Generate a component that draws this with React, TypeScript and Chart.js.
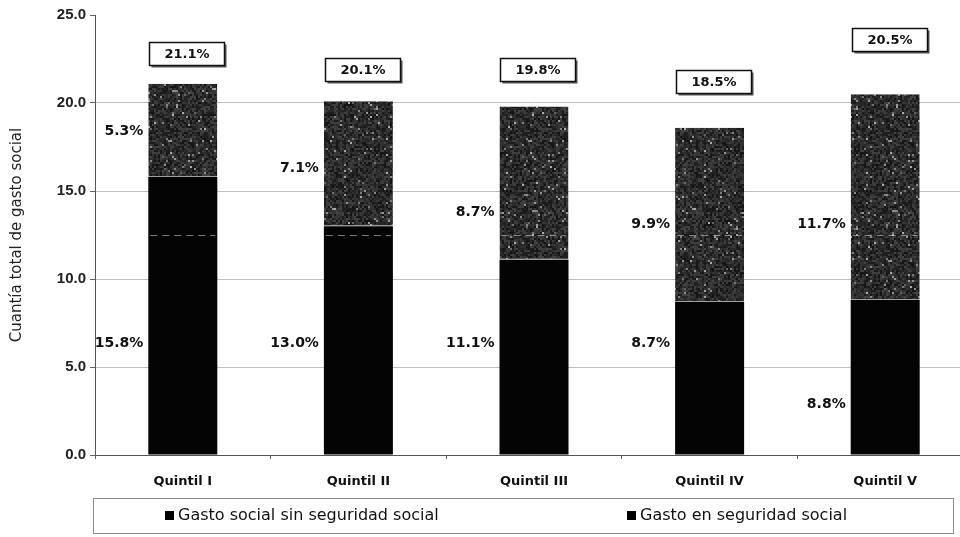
import { useEffect, useRef } from "react";
import { Chart, registerables } from "chart.js";

Chart.register(...registerables);

// Quintiles and the two components of social spending (% of the total)
const quintiles = ["Quintil I", "Quintil II", "Quintil III", "Quintil IV", "Quintil V"];
const sinSeguridad = [15.8, 13.0, 11.1, 8.7, 8.8];
const seguridadSocial = [5.3, 7.1, 8.7, 9.9, 11.7];
const totalPct = [21.1, 20.1, 19.8, 18.5, 20.5];
const seriesNames = ["Gasto social sin seguridad social", "Gasto en seguridad social"];

// Where each annotation sits, in axis units
const lowerLabelAt = [6.35, 6.35, 6.35, 6.35, 2.9];
const upperLabelAt = [18.4, 16.3, 13.8, 13.1, 13.1];
const totalLabelAt = [22.8, 21.9, 21.9, 21.2, 23.6];

const FONT = "'DejaVu Sans', 'Liberation Sans', Arial, sans-serif";
const ARIAL = "'Liberation Sans', Arial, sans-serif";

// Dark mottled fill for the social-security segment
function speckleFill(): CanvasPattern | string {
  const cells = 60;
  const cell = 2;
  const size = cells * cell;
  const raw = document.createElement("canvas");
  raw.width = size;
  raw.height = size;
  const g = raw.getContext("2d");
  if (!g) return "#333";
  let s = 918273645;
  const next = () => {
    s = (Math.imul(s, 1103515245) + 12345) >>> 0;
    return (s >>> 8) / 16777216;
  };
  for (let cy = 0; cy < cells; cy++) {
    for (let cx = 0; cx < cells; cx++) {
      const r = next();
      let v = Math.round(18 + r * 52);
      if (r > 0.955) v = Math.round(95 + next() * 80);
      g.fillStyle = `rgb(${v},${v},${v})`;
      g.fillRect(cx * cell, cy * cell, cell, cell);
    }
  }
  const soft = document.createElement("canvas");
  soft.width = size;
  soft.height = size;
  const h = soft.getContext("2d");
  if (!h) return "#333";
  h.fillStyle = "#2a2a2a";
  h.fillRect(0, 0, size, size);
  h.filter = "blur(0.5px)";
  h.drawImage(raw, 0, 0);
  const pat = h.createPattern(soft, "repeat");
  return pat || "#333";
}

const annotations = {
  id: "annotations",
  afterDatasetsDraw(chart: any) {
    const ctx: CanvasRenderingContext2D = chart.ctx;
    const y = chart.scales.y;
    const lower = chart.getDatasetMeta(0).data;
    const upper = chart.getDatasetMeta(1).data;

    ctx.save();
    // faint dashed reference across the bars
    ctx.strokeStyle = "rgba(200,200,200,0.6)";
    ctx.lineWidth = 1;
    ctx.setLineDash([7, 5]);
    const ref = Math.round(y.getPixelForValue(12.5)) + 0.5;
    lower.forEach((bar: any) => {
      ctx.beginPath();
      ctx.moveTo(bar.x - bar.width / 2 + 2, ref);
      ctx.lineTo(bar.x + bar.width / 2 - 2, ref);
      ctx.stroke();
    });
    ctx.setLineDash([]);

    ctx.fillStyle = "#111";
    ctx.font = `bold 14px ${FONT}`;
    ctx.textBaseline = "middle";
    ctx.textAlign = "right";
    lower.forEach((bar: any, i: number) => {
      const left = bar.x - bar.width / 2;
      ctx.fillText(`${sinSeguridad[i].toFixed(1)}%`, left - 5, y.getPixelForValue(lowerLabelAt[i]));
      ctx.fillText(`${seguridadSocial[i].toFixed(1)}%`, left - 5, y.getPixelForValue(upperLabelAt[i]));
    });

    // boxed totals
    ctx.font = `bold 13px ${FONT}`;
    ctx.textAlign = "center";
    upper.forEach((bar: any, i: number) => {
      const bx = Math.round(bar.x - bar.width / 2) + 1.5;
      const cy = y.getPixelForValue(totalLabelAt[i]);
      const w = 75;
      const h = 23;
      const by = Math.round(cy - h / 2) + 0.5;
      ctx.fillStyle = "#555";
      ctx.fillRect(bx + 2, by + 2, w, h);
      ctx.fillStyle = "#fff";
      ctx.fillRect(bx, by, w, h);
      ctx.strokeStyle = "#111";
      ctx.lineWidth = 1.5;
      ctx.strokeRect(bx, by, w, h);
      ctx.fillStyle = "#111";
      ctx.fillText(`${totalPct[i].toFixed(1)}%`, bx + w / 2, by + h / 2 + 1);
    });
    ctx.restore();
  },
  afterDraw(chart: any) {
    const ctx: CanvasRenderingContext2D = chart.ctx;
    ctx.save();
    // legend frame
    ctx.strokeStyle = "#8c8c8c";
    ctx.lineWidth = 1;
    ctx.strokeRect(93.5, 498.5, 860, 35);
    const items = [
      { x: 165, label: chart.data.datasets[0].label },
      { x: 627, label: chart.data.datasets[1].label },
    ];
    ctx.font = `16px ${FONT}`;
    ctx.textBaseline = "middle";
    ctx.textAlign = "left";
    items.forEach((it) => {
      ctx.fillStyle = "#000";
      ctx.fillRect(it.x, 511, 9, 9);
      ctx.fillStyle = "#111";
      ctx.fillText(it.label, it.x + 13, 516);
    });
    ctx.restore();
  },
};

export default function App() {
  const canvasRef = useRef<HTMLCanvasElement | null>(null);

  useEffect(() => {
    if (!canvasRef.current) return;
    const chart = new Chart(canvasRef.current, {
      type: "bar",
      data: {
        labels: quintiles,
        datasets: [
          {
            label: seriesNames[0],
            data: sinSeguridad,
            backgroundColor: "#040404",
            borderWidth: 0,
          },
          {
            label: seriesNames[1],
            data: seguridadSocial,
            backgroundColor: speckleFill() as any,
            borderColor: "#a0a0a0",
            borderWidth: { top: 0, left: 0, right: 0, bottom: 1 },
            borderSkipped: false,
          },
        ],
      },
      options: {
        animation: false,
        responsive: true,
        maintainAspectRatio: false,
        layout: { padding: { top: 15, right: 7, bottom: 0, left: 0 } },
        datasets: { bar: { categoryPercentage: 1, barPercentage: 0.393 } },
        plugins: {
          legend: { display: false },
          tooltip: { enabled: false },
        },
        scales: {
          x: {
            stacked: true,
            offset: true,
            grid: {
              display: true,
              offset: true,
              drawOnChartArea: false,
              drawTicks: true,
              tickLength: 4,
              color: "#666",
            },
            border: { display: true, color: "#555", width: 1 },
            ticks: {
              color: "#111",
              padding: 15,
              font: { family: FONT, size: 13, weight: "bold" },
            },
            afterFit: (s: any) => {
              s.height = 82;
            },
          },
          y: {
            stacked: true,
            min: 0,
            max: 25,
            ticks: {
              stepSize: 5,
              color: "#222",
              padding: 4,
              font: { family: ARIAL, size: 15, weight: "bold" },
              callback: (v: any) => Number(v).toFixed(1),
            },
            grid: {
              drawTicks: true,
              tickLength: 5,
              color: (c: any) =>
                c.tick && c.tick.value === 25 ? "rgba(0,0,0,0)" : c.tick && c.tick.value === 0 ? "#555" : "#bdbdbd",
              tickColor: "#666",
            },
            border: { display: true, color: "#555", width: 1 },
            title: {
              display: true,
              text: "Cuantía total de gasto social",
              color: "#222",
              padding: { top: 8, bottom: 0 },
              font: { family: FONT, size: 15 },
            },
            afterFit: (s: any) => {
              s.width = 95;
            },
          },
        },
      },
      plugins: [annotations],
    });
    return () => chart.destroy();
  }, []);

  return (
    <div
      style={{
        position: "absolute",
        left: 0,
        top: 0,
        width: 960,
        height: 537,
        overflow: "hidden",
        background: "#fff",
      }}
    >
      <div style={{ position: "relative", width: 980, height: 537 }}>
        <canvas ref={canvasRef} />
      </div>
    </div>
  );
}
